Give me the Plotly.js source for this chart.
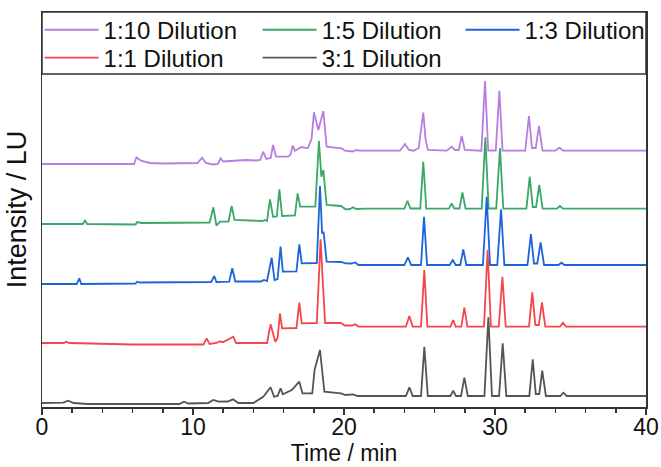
<!DOCTYPE html>
<html>
<head>
<meta charset="utf-8">
<script src="https://cdn.plot.ly/plotly-3.0.1.min.js"></script>
<style>html,body{margin:0;padding:0;background:#fff;}#chart{width:661px;height:467px;}</style>
</head>
<body>
<div id="chart"></div>
<script>
// Series names (legend labels)
const seriesNames = ["1:10 Dilution", "1:5 Dilution", "1:3 Dilution", "1:1 Dilution", "3:1 Dilution"];
// Vertical offset of each chromatogram (stacked display)
const offsets = [243, 183, 123, 64, 4];

// 1:10 Dilution
const time_1to10 = [0,6.1,6.25,6.6,7.15,8.0,10.3,10.6,10.85,11.3,11.65,11.83,12.0,12.5,13.5,14.2,14.45,14.65,14.85,15.15,15.3,15.5,16.3,16.45,16.6,16.75,17.2,17.6,17.85,18.01,18.3,18.63,18.85,19.85,20.05,20.6,20.8,21.0,23.7,24.04,24.3,24.6,24.95,25.1,25.25,25.4,25.55,26.8,27.13,27.35,27.6,27.8,28.0,29.1,29.34,29.55,30.05,30.29,30.5,32.0,32.25,32.45,32.7,32.91,33.15,34.0,34.26,34.5,40];
const int_1to10  = [0,0,6.5,3,1,0.5,1,6.3,1,-0.5,0,5.7,2.5,3,4,3.5,4,12.3,5,6,19,7.3,7.5,9,18.3,13.3,17,15.7,25,51.7,34,53,17.3,15.7,13.3,12.5,14,13.3,13.3,20,14,13.3,16,34,51.3,25,14,13.3,17.3,14,14,28,14,13.3,83,13.5,13.5,73.3,13.5,13.3,48,16,16,38,13.5,13.3,16.3,13.3,13.3];

// 1:5 Dilution
const time_1to5 = [0,2.7,2.85,3.0,6.2,6.3,6.6,11.1,11.35,11.55,11.8,12.35,12.56,12.75,14.6,14.75,14.9,15.1,15.3,15.55,15.72,15.9,16.75,16.93,17.1,18.1,18.34,18.5,18.63,18.85,19.8,20.1,20.4,20.6,20.8,21.5,24.0,24.2,24.4,25.05,25.25,25.45,26.95,27.13,27.3,27.65,27.84,28.05,29.12,29.36,29.58,30.08,30.33,30.55,32.08,32.3,32.5,32.72,32.93,33.15,34.1,34.3,34.5,40];
const int_1to5  = [0,0,3.3,0,-0.5,2,1,1.5,16.7,-1.7,2.3,2.5,18,4,3,4,3,24.7,7.3,7.5,34.7,8,8.5,30.7,17.3,17.5,83.3,47.3,54,19,18,14.7,15,16.7,15,15.3,15.3,23.3,15.5,15.5,62.3,15.5,15.3,20.7,15.5,15.5,31.7,15.5,15.3,86.7,15.5,15.5,75.7,15.5,15.3,47.3,17,17,39,15.5,15.3,18,15.3,15.3];

// 1:3 Dilution
const time_1to3 = [0,2.3,2.47,2.6,6.2,6.3,6.5,11.2,11.41,11.55,12.4,12.6,12.8,14.5,14.7,14.9,15.21,15.4,15.6,15.8,15.95,16.85,17.04,17.2,18.2,18.41,18.55,18.65,18.85,19.8,20.1,20.5,20.75,20.95,21.5,24.0,24.23,24.45,25.1,25.3,25.5,27.0,27.2,27.4,27.7,27.9,28.1,29.2,29.45,29.67,30.15,30.4,30.62,32.15,32.38,32.58,32.8,33.02,33.25,34.2,34.4,34.6,40];
const int_1to3  = [0,0,5.7,0,0.5,2.3,1.5,2,8,2,2.3,15.7,2.5,2.5,4,3,26.3,4,5,37.3,12.3,12.7,39.7,20.7,21,98,50.7,52,22.3,22,20.7,20.5,21.5,19,19,19,26.7,19,19,67.3,19,19,24,19,19,34.7,19,19,87.3,19,19,74.7,19,19,50,20.5,20.5,41.7,19,19,21.3,19,19];

// 1:1 Dilution
const time_1to1 = [0,1.45,1.6,1.8,6.0,10.7,10.9,11.1,11.55,11.75,12.0,12.67,12.85,14.9,15.14,15.45,15.6,15.76,15.9,16.85,17.04,17.2,18.2,18.45,18.6,18.75,19.8,20.05,20.5,20.75,20.95,21.5,24.1,24.33,24.55,25.1,25.32,25.52,27.05,27.23,27.4,27.77,27.97,28.17,29.27,29.51,29.73,30.25,30.49,30.71,32.25,32.47,32.67,32.9,33.11,33.33,34.3,34.5,34.7,40];
const int_1to1  = [0,0,1.3,0,-1.5,-1.5,4.7,-1,0,1.5,1,6.3,0,0,18.7,1.3,5,29.7,14.7,15,40.3,19.7,20,103.7,60,20,20,17.5,17.5,18.7,16.5,16.3,16.3,27,16.3,16.3,73,16.3,16.3,23,16.3,16.3,35.3,16.3,16.3,93,16.3,16.3,66.3,16.3,16.3,50.7,18,18,40.7,16.3,16.3,20.3,16.3,16.3];

// 3:1 Dilution
const time_3to1 = [0,1.4,1.74,2.1,3.0,9.1,9.4,9.7,11.0,11.34,11.7,12.3,12.65,13.0,14.0,14.3,14.65,15.14,15.37,15.6,15.8,15.95,16.54,17.04,17.25,17.9,18.05,18.41,18.7,19.8,20.1,20.6,20.9,21.5,24.1,24.33,24.55,25.1,25.32,25.55,27.05,27.23,27.42,27.75,27.97,28.2,29.3,29.56,29.8,30.27,30.51,30.75,32.27,32.5,32.7,32.93,33.13,33.37,34.33,34.53,34.75,40];
const int_3to1  = [0,0.3,2.3,0,-1,-1,1.3,-0.5,0,3,1.3,1.5,3.7,0,0,3,6.3,15.7,6.3,7,14.7,8.7,13,21.3,9.7,9.7,33,53,11.3,9.7,8,8.7,7,7,7,15.7,7,7,56.3,7,7,12.3,7,7,25.3,7,7,85.7,7,7,59.7,7,7,43.7,9,9,32.3,7,7,10.3,7,7];

const times = [time_1to10, time_1to5, time_1to3, time_1to1, time_3to1];
const intens = [int_1to10, int_1to5, int_1to3, int_1to1, int_3to1];
const colors = ["#b77ee0", "#3aa868", "#1c64dc", "#f4464a", "#545454"];
const legendIds = ["legend", "legend2", "legend3", "legend4", "legend5"];

const traces = seriesNames.map((name, k) => ({
  type: "scatter",
  mode: "lines",
  name: name,
  x: times[k],
  y: intens[k].map(v => v + offsets[k]),
  line: {color: colors[k], width: 1.8},
  legend: legendIds[k],
  hoverinfo: "skip"
}));

const axisColor = "#333333";
const fontFamily = "Arial, 'Liberation Sans', sans-serif";
function legendAt(x, y) {
  return {
    orientation: "v", xanchor: "left", yanchor: "middle", x: x, y: y,
    font: {family: fontFamily, size: 24, color: "#111"},
    bgcolor: "rgba(0,0,0,0)", borderwidth: 0, itemwidth: 54,
    tracegroupgap: 0, itemclick: false
  };
}

const layout = {
  width: 661, height: 467,
  margin: {l: 42, r: 15, t: 12, b: 60, autoexpand: false},
  paper_bgcolor: "#ffffff", plot_bgcolor: "#ffffff",
  font: {family: fontFamily, color: "#111"},
  showlegend: true,
  xaxis: {
    range: [0, 40], tick0: 0, dtick: 10,
    showline: true, mirror: true, linecolor: axisColor, linewidth: 1.5,
    ticks: "outside", ticklen: 6, tickwidth: 1.5, tickcolor: axisColor,
    minor: {ticks: "outside", dtick: 2, ticklen: 4, tickwidth: 1.5, tickcolor: axisColor, showgrid: false},
    showgrid: false, zeroline: false,
    ticklabelstandoff: -7,
    tickfont: {family: fontFamily, size: 23, color: "#111"},
    title: {text: "Time / min", font: {family: fontFamily, size: 23, color: "#111"}, standoff: 6}
  },
  yaxis: {
    range: [0, 395],
    showline: true, mirror: true, linecolor: axisColor, linewidth: 1.5,
    ticks: "", showticklabels: false, showgrid: false, zeroline: false,
    title: {text: "Intensity / LU", font: {family: fontFamily, size: 27, color: "#111"}, standoff: 6}
  },
  legend: legendAt(-0.004, 0.954),
  legend2: legendAt(0.357, 0.954),
  legend3: legendAt(0.693, 0.954),
  legend4: legendAt(-0.004, 0.8835),
  legend5: legendAt(0.357, 0.8835),
  shapes: [{
    type: "rect", xref: "paper", yref: "paper",
    x0: 0, x1: 1, y0: 0.843, y1: 1,
    line: {color: axisColor, width: 1.5}, fillcolor: "rgba(0,0,0,0)"
  }]
};

Plotly.newPlot("chart", traces, layout, {staticPlot: true, displayModeBar: false});
</script>
</body>
</html>
